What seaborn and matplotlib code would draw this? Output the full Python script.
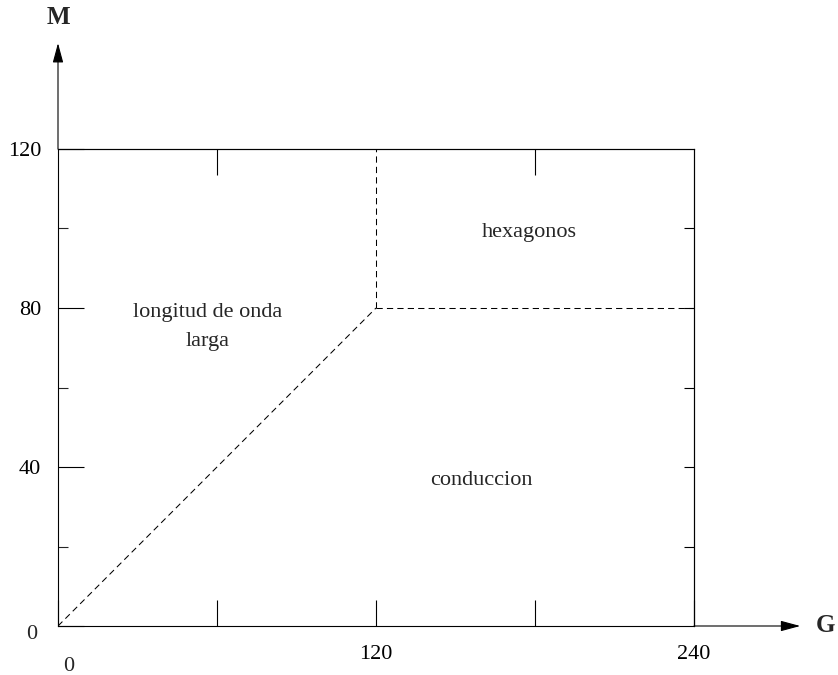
import numpy as np
import pandas as pd
import matplotlib
matplotlib.use("Agg")
import matplotlib.pyplot as plt
import seaborn as sns

# Region boundaries (dashed) in the G-M plane
diag_g = [0, 120]
diag_m = [0, 80]
horiz_g = [120, 240]
horiz_m = [80, 80]
vert_g = [120, 120]
vert_m = [80, 120]

# ticks and their labels
x_ticks = [0, 60, 120, 180, 240]
x_labels = ["", "", "120", "", "240"]
x_top = [60, 180]
y_major = [0, 40, 80, 120]
y_major_labels = ["", "40", "80", "120"]
y_minor = [20, 60, 100]
y_right = [20, 40, 60, 80, 100]

# region names and where they sit (data coords)
region_names = ["longitud de onda", "larga", "hexagonos", "conduccion"]
region_g = [56.6, 56.6, 177.7, 159.6]
region_m = [78.8, 71.5, 98.9, 36.5]

sns.set_style("ticks")
plt.rcParams['font.family'] = ['Liberation Serif', 'DejaVu Serif']
plt.rcParams['axes.linewidth'] = 0.8

fig = plt.figure(figsize=(8.38, 6.75), dpi=100)
ax = fig.add_axes([58 / 838, 1 - 626 / 675, 636 / 838, 477 / 675])

# build one long table for the dashed boundaries
segs = pd.DataFrame({
    "G": diag_g + horiz_g + vert_g,
    "M": diag_m + horiz_m + vert_m,
    "seg": ["diag"] * 2 + ["horiz"] * 2 + ["vert"] * 2,
})
sns.lineplot(data=segs, x="G", y="M", units="seg", estimator=None, sort=False,
             color="black", linewidth=0.75, linestyle=(0, (6, 4)), ax=ax)

ax.set_xlim(0, 240)
ax.set_ylim(0, 120)
ax.set_xlabel("")
ax.set_ylabel("")
for s in ax.spines.values():
    s.set_color("black")
    s.set_linewidth(0.8)

# inner ticks: long ones bottom/left major, short on left minor
ax.set_xticks(x_ticks)
ax.set_xticklabels(x_labels, fontsize=16)
ax.set_yticks(y_major)
ax.set_yticklabels(y_major_labels, fontsize=16)
ax.set_yticks(y_minor, minor=True)
ax.tick_params(axis="x", which="major", direction="in", length=18.7, width=0.8,
               top=False, bottom=True, pad=14, colors="black")
ax.tick_params(axis="y", which="major", direction="in", length=18.7, width=0.8,
               left=True, right=False, pad=12, colors="black")
ax.tick_params(axis="y", which="minor", direction="in", length=7.2, width=0.8,
               left=True, right=False)

# top side: long ticks, but not where the dashed line meets the box
top = ax.secondary_xaxis("top")
top.set_xticks(x_top)
top.set_xticklabels([""] * len(x_top))
top.tick_params(direction="in", length=18.7, width=0.8, colors="black")
top.spines["top"].set_linewidth(0.8)

# short ticks on the right side
sec = ax.secondary_yaxis("right")
sec.set_yticks(y_right)
sec.set_yticklabels([""] * len(y_right))
sec.tick_params(direction="in", length=7.2, width=0.8, colors="black")
sec.spines["right"].set_linewidth(0.8)

# the two zeros sit a bit off the corner
ax.annotate("0", xy=(0, 0), xycoords="data", xytext=(-19, -6), textcoords="offset points",
            ha="center", va="center", fontsize=16, annotation_clip=False)
ax.annotate("0", xy=(0, 0), xycoords="data", xytext=(8, -29), textcoords="offset points",
            ha="center", va="center", fontsize=16, annotation_clip=False)

# region labels
for name, g, m in zip(region_names, region_g, region_m):
    ax.text(g, m, name, ha="center", va="center", fontsize=16)

# axis arrows
arrow = dict(arrowstyle="-|>,head_length=1.0,head_width=0.27", mutation_scale=12,
             color="black", lw=0.8, shrinkA=0, shrinkB=0)
ax.annotate("", xy=(1.167, 0), xytext=(1.0, 0), xycoords="axes fraction",
            textcoords="axes fraction", arrowprops=arrow, annotation_clip=False)
ax.annotate("", xy=(0, 1.222), xytext=(0, 1.0), xycoords="axes fraction",
            textcoords="axes fraction", arrowprops=arrow, annotation_clip=False)
ax.text(1.206, 0.0, "G", transform=ax.transAxes, ha="center", va="center",
        fontsize=18, fontweight="bold")
ax.text(0.0, 1.276, "M", transform=ax.transAxes, ha="center", va="center",
        fontsize=18, fontweight="bold")

fig.savefig("out.png", dpi=100)
